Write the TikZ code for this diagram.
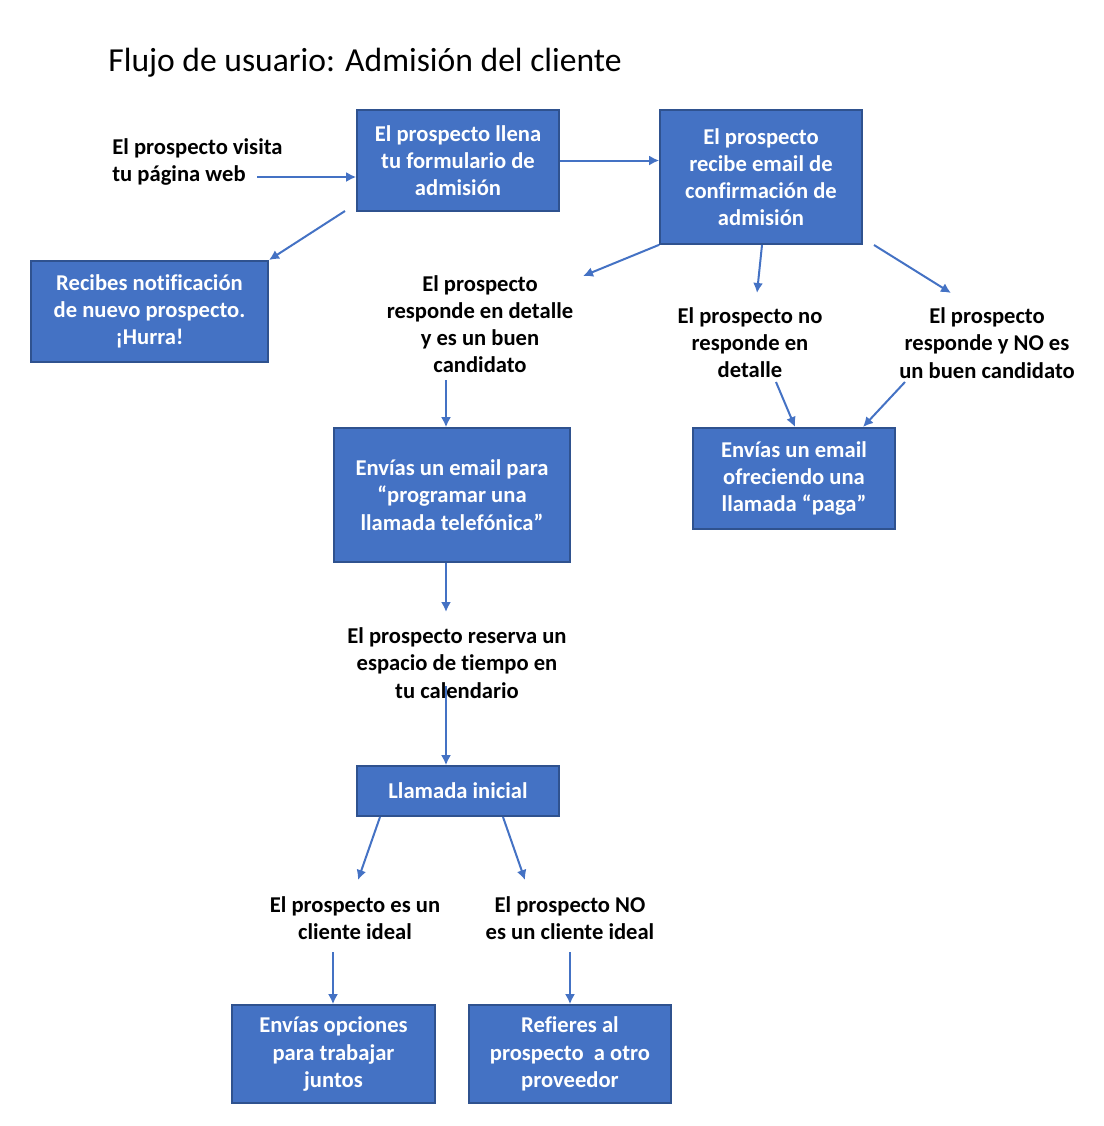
\documentclass[tikz,border=0pt]{standalone}
\usepackage{fontspec}
\setmainfont[Ligatures=NoCommon]{Carlito}
\usetikzlibrary{arrows.meta}
\definecolor{boxblue}{HTML}{4472C4}
\definecolor{boxborder}{HTML}{2F528F}
\definecolor{arrowblue}{HTML}{4472C4}
\tikzset{
  box/.style={draw=boxborder, line width=0.8pt, fill=boxblue, text=white,
    font=\bfseries\fontsize{11.3}{13.6}\selectfont, align=center, inner sep=0pt},
  lbl/.style={text=black, font=\bfseries\fontsize{11.3}{13.6}\selectfont, align=center, inner sep=0pt},
  conn/.style={draw=arrowblue, line width=1pt, -{Latex[length=5pt,width=5pt]}}
}
\begin{document}
\begin{tikzpicture}[x=0.5pt,y=-0.5pt]
\useasboundingbox (0,0) rectangle (1104,1126);
\node[anchor=west, inner sep=0pt, font=\fontsize{16.8}{20}\selectfont] (title) at (108,63) {Flujo de usuario: Admisión del cliente};

\node[box, minimum width=101pt, minimum height=50.5pt] (form) at (458,160.5) {El prospecto llena\\tu formulario de\\admisión};
\node[box, minimum width=101pt, minimum height=67pt] (conf) at (761,177) {El prospecto\\recibe email de\\confirmación de\\admisión};
\node[box, minimum width=118.5pt, minimum height=50.5pt] (notif) at (149.5,311.5) {Recibes notificación\\de nuevo prospecto.\\¡Hurra!};
\node[box, minimum width=118pt, minimum height=67pt] (prog) at (452,495) {Envías un email para\\“programar una\\llamada telefónica”};
\node[box, minimum width=101pt, minimum height=50.5pt] (paga) at (794,478.5) {Envías un email\\ofreciendo una\\llamada “paga”};
\node[box, minimum width=101pt, minimum height=25pt] (call) at (458,791) {Llamada inicial};
\node[box, minimum width=101.5pt, minimum height=49pt] (opc) at (333.5,1054) {Envías opciones\\para trabajar\\juntos};
\node[box, minimum width=101pt, minimum height=49pt] (ref) at (570,1054) {Refieres al\\prospecto~ a otro\\proveedor};

\node[lbl, anchor=west, align=left] (visita) at (112,162) {El prospecto visita\\tu página web};
\node[lbl] (buen) at (480,324) {El prospecto\\responde en detalle\\y es un buen\\candidato};
\node[lbl] (nores) at (750,342.5) {El prospecto no\\responde en\\detalle};
\node[lbl] (nobuen) at (987,343) {El prospecto\\responde y NO es\\un buen candidato};
\node[lbl] (reserva) at (457,663) {El prospecto reserva un\\espacio de tiempo en\\tu calendario};
\node[lbl] (ideal) at (355,918.5) {El prospecto es un\\cliente ideal};
\node[lbl] (noideal) at (570,918.5) {El prospecto NO\\es un cliente ideal};

\coordinate (a1) at (257,177);
\coordinate (a3) at (345,211);
\coordinate (a4) at (583,276);
\coordinate (a5) at (757,293);
\coordinate (a6s) at (874,245);
\coordinate (a6) at (951,293);
\coordinate (a7) at (446,380);
\coordinate (a8) at (446,612);
\coordinate (a9) at (446,686);
\coordinate (a10) at (358,880);
\coordinate (a11) at (525,880);
\coordinate (a12) at (333,952);
\coordinate (a13) at (570,952);
\coordinate (a14) at (776,382);
\coordinate (a15) at (905,382);

\draw[conn] (a1) -- (a1 -| form.west);
\draw[conn] (form.east) -- (form.east -| conf.west);
\draw[conn] (a3) -- (269,260);
\draw[conn] (conf.south west) -- (a4);
\draw[conn] (762,245) -- (a5);
\draw[conn] (a6s) -- (a6);
\draw[conn] (a7) -- (a7 |- prog.north);
\draw[conn] (a7 |- prog.south) -- (a8);
\draw[conn] (a9) -- (a9 |- call.north);
\draw[conn] (380,817) -- (a10);
\draw[conn] (503,817) -- (a11);
\draw[conn] (a12) -- (a12 |- opc.north);
\draw[conn] (a13) -- (a13 |- ref.north);
\draw[conn] (a14) -- (795,427);
\draw[conn] (a15) -- (863,427);
\end{tikzpicture}
\end{document}
